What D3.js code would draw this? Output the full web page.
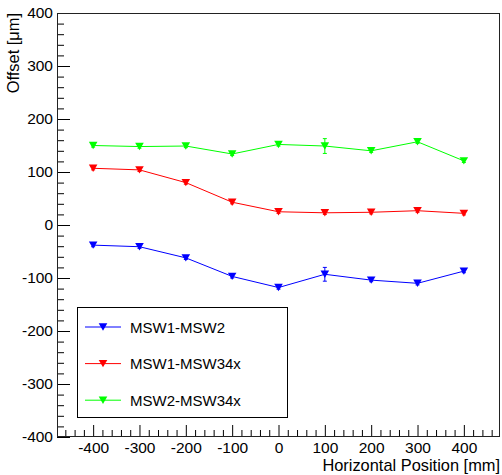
<!DOCTYPE html>
<html>
<head>
<meta charset="utf-8">
<script src="https://cdn.jsdelivr.net/npm/d3@7"></script>
<style>
  body { margin: 0; background: #fff; }
  text { font-family: "Liberation Sans", Arial, Helvetica, sans-serif; }
</style>
</head>
<body>
<div id="chart"></div>
<script>
var w = 502;
var h = 475;
var marginLeft = 57, plotRight = 500, plotTop = 13, plotBottom = 437;

// horizontal positions [mm]
var positions = [-400, -300, -200, -100, 0, 100, 200, 300, 400];

// offsets [um] per pair of wheels
var msw1msw2 = [-38, -41, -62, -97, -118, -93, -104, -110, -87];
var msw1msw2Err = [3, 3, 3, 3, 3, 13, 3, 3, 3];
var msw1msw34x = [107, 104, 80, 43, 25, 23, 24, 27, 22];
var msw1msw34xErr = [3, 3, 3, 3, 3, 3, 3, 3, 3];
var msw2msw34x = [150, 148, 149, 134, 152, 149, 140, 157, 121];
var msw2msw34xErr = [3, 3, 3, 3, 3, 14, 3, 3, 3];

var seriesNames = ["MSW1-MSW2", "MSW1-MSW34x", "MSW2-MSW34x"];
var seriesColors = ["#0000ff", "#ff0000", "#00ff00"];

var xTicks = [-400, -300, -200, -100, 0, 100, 200, 300, 400];
var yTicks = [-400, -300, -200, -100, 0, 100, 200, 300, 400];

var series = [
  {name: seriesNames[0], color: seriesColors[0], y: msw1msw2, err: msw1msw2Err},
  {name: seriesNames[1], color: seriesColors[1], y: msw1msw34x, err: msw1msw34xErr},
  {name: seriesNames[2], color: seriesColors[2], y: msw2msw34x, err: msw2msw34xErr}
];

var svg = d3.select("#chart")
  .append("svg")
  .attr("width", w)
  .attr("height", h);

var x = d3.scaleLinear().domain([-478, 478]).range([marginLeft, plotRight]);
var y = d3.scaleLinear().domain([-400, 400]).range([plotBottom, plotTop]);

function triangle(cx, cy) {
  return "M" + (cx - 4.3) + "," + (cy - 3.7) + "L" + (cx + 4.3) + "," + (cy - 3.7) + "L" + cx + "," + (cy + 3.7) + "Z";
}

// plain hyphen minus, like the original plot
function fmt(v) { return String(v); }

// minor ticks
var xMinor = d3.range(-460, 461, 20).filter(function(v) { return v % 100 != 0; });
var yMinor = d3.range(-380, 381, 20).filter(function(v) { return v % 100 != 0; });

svg.append("g")
  .attr("transform", "translate(0," + plotBottom + ")")
  .call(d3.axisBottom(x).tickValues(xMinor).tickFormat("").tickSizeInner(-7).tickSizeOuter(0))
  .call(function(g) { g.select(".domain").remove(); });

svg.append("g")
  .attr("transform", "translate(" + marginLeft + ",0)")
  .call(d3.axisLeft(y).tickValues(yMinor).tickFormat("").tickSizeInner(-7).tickSizeOuter(0))
  .call(function(g) { g.select(".domain").remove(); });

// major ticks with labels
var xAxis = svg.append("g")
  .attr("transform", "translate(0," + plotBottom + ")")
  .call(d3.axisBottom(x).tickValues(xTicks).tickFormat(fmt).tickSizeInner(-12).tickSizeOuter(0).tickPadding(5));
xAxis.select(".domain").remove();
xAxis.selectAll("text").attr("font-size", 15.5).attr("font-family", "Liberation Sans, Arial, sans-serif").attr("fill", "#000");

var yAxis = svg.append("g")
  .attr("transform", "translate(" + marginLeft + ",0)")
  .call(d3.axisLeft(y).tickValues(yTicks).tickFormat(fmt).tickSizeInner(-13).tickSizeOuter(0).tickPadding(4));
yAxis.select(".domain").remove();
yAxis.selectAll("text").attr("font-size", 15.5).attr("font-family", "Liberation Sans, Arial, sans-serif").attr("fill", "#000");

// frame
svg.append("rect")
  .attr("x", marginLeft + 0.5)
  .attr("y", plotTop + 0.5)
  .attr("width", plotRight - marginLeft - 1)
  .attr("height", plotBottom - plotTop - 1)
  .attr("fill", "none")
  .attr("stroke", "#222")
  .attr("stroke-width", 1);

// series
series.forEach(function(s) {
  var pts = positions.map(function(p, i) { return {x: p, y: s.y[i], e: s.err[i]}; });
  var g = svg.append("g");

  g.append("path")
    .datum(pts)
    .attr("d", d3.line().x(function(d) { return x(d.x); }).y(function(d) { return y(d.y); }))
    .attr("fill", "none")
    .attr("stroke", s.color)
    .attr("stroke-width", 1);

  g.selectAll(".err")
    .data(pts)
    .enter().append("path")
    .attr("d", function(d) {
      var cx = x(d.x), y0 = y(d.y - d.e), y1 = y(d.y + d.e);
      return "M" + cx + "," + y0 + "V" + y1 +
        "M" + (cx - 2) + "," + y0 + "H" + (cx + 2) +
        "M" + (cx - 2) + "," + y1 + "H" + (cx + 2);
    })
    .attr("stroke", s.color)
    .attr("stroke-width", 1)
    .attr("fill", "none");

  g.selectAll(".mk")
    .data(pts)
    .enter().append("path")
    .attr("d", function(d) { return triangle(x(d.x), y(d.y)); })
    .attr("fill", s.color);
});

// legend
var legend = svg.append("g");
legend.append("rect")
  .attr("x", 77.5)
  .attr("y", 307.5)
  .attr("width", 210)
  .attr("height", 110)
  .attr("fill", "#fff")
  .attr("stroke", "#000")
  .attr("stroke-width", 1);

var entries = legend.selectAll(".entry")
  .data(series)
  .enter().append("g")
  .attr("transform", function(d, i) { return "translate(0," + (327 + i * 36.6) + ")"; });

entries.append("line")
  .attr("x1", 85).attr("x2", 121)
  .attr("y1", 0).attr("y2", 0)
  .attr("stroke", function(d) { return d.color; })
  .attr("stroke-width", 1);

entries.append("path")
  .attr("d", triangle(103, 0))
  .attr("fill", function(d) { return d.color; });

entries.append("text")
  .attr("x", 130)
  .attr("y", 5.5)
  .attr("font-size", 15)
  .attr("fill", "#000")
  .text(function(d) { return d.name; });

// axis titles
svg.append("text")
  .attr("x", plotRight)
  .attr("y", 471)
  .attr("text-anchor", "end")
  .attr("font-size", 16.4)
  .text("Horizontal Position [mm]");

svg.append("text")
  .attr("transform", "translate(19," + plotTop + ") rotate(-90)")
  .attr("text-anchor", "end")
  .attr("font-size", 16.4)
  .text("Offset [\u03bcm]");
</script>
</body>
</html>
